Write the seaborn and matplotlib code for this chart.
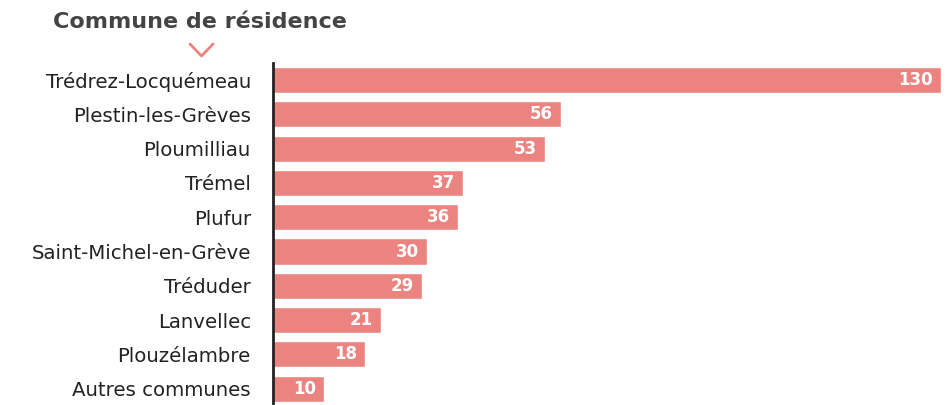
import matplotlib
matplotlib.use("Agg")
import matplotlib.pyplot as plt
import seaborn as sns
import pandas as pd

# -----------------------------
# Data
# -----------------------------
communes = [
    "Trédrez-Locquémeau",
    "Plestin-les-Grèves",
    "Ploumilliau",
    "Trémel",
    "Plufur",
    "Saint-Michel-en-Grève",
    "Tréduder",
    "Lanvellec",
    "Plouzélambre",
    "Autres communes",
]
counts = [130, 56, 53, 37, 36, 30, 29, 21, 18, 10]
title = "Commune de résidence"

bar_color = "#EB8480"
text_color = "#444444"

df = pd.DataFrame({"commune": communes, "n": counts})

sns.set_style("white")
plt.rcParams["font.family"] = ["DejaVu Sans"]

fig = plt.figure(figsize=(9.46, 4.05), dpi=100)
ax = fig.add_axes([273 / 946, 1 - 403 / 405, (941 - 273) / 946, (403 - 63) / 405])

# -----------------------------
# Bars
# -----------------------------
sns.barplot(
    data=df,
    x="n",
    y="commune",
    orient="h",
    color=bar_color,
    saturation=1,
    width=0.76,
    ax=ax,
)

ax.set_xlim(0, 130)
ax.set_ylim(9.42, -0.5)
ax.set_xlabel("")
ax.set_ylabel("")
ax.set_xticks([])

for s in ["top", "right", "bottom"]:
    ax.spines[s].set_visible(False)
ax.spines["left"].set_color("#222222")
ax.spines["left"].set_linewidth(2)

ax.tick_params(axis="y", length=0, pad=16, labelsize=14.2, labelcolor="#222222")

# value labels inside the bars
for i, v in enumerate(counts):
    ax.annotate(
        str(v),
        xy=(v, i),
        xytext=(-6, 0),
        textcoords="offset points",
        ha="right",
        va="center",
        color="white",
        fontsize=12,
        fontweight="bold",
    )

# -----------------------------
# Title + chevron
# -----------------------------
fig.text(200 / 946, 1 - 22 / 405, title, ha="center", va="center",
         fontsize=16, fontweight="bold", color=text_color)
fig.add_artist(plt.Line2D(
    [190 / 946, 201.5 / 946, 213 / 946],
    [1 - 44 / 405, 1 - 56 / 405, 1 - 44 / 405],
    color=bar_color, linewidth=2,
))

fig.savefig("out.png", dpi=100)
